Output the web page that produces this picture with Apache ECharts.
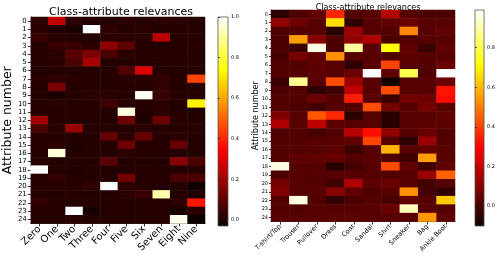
<!DOCTYPE html>
<html><head><meta charset="utf-8">
<script src="https://cdn.jsdelivr.net/npm/echarts@6/dist/echarts.min.js"></script>
<style>html,body{margin:0;padding:0;background:#fff}#c{width:498px;height:255px}</style>
</head><body><div id="c"></div>
<script>
const attributeLabels = ['0','1','2','3','4','5','6','7','8','9','10','11','12','13','14','15','16','17','18','19','20','21','22','23','24'];
const digitClasses = ['Zero','One','Two','Three','Four','Five','Six','Seven','Eight','Nine'];
const fashionClasses = ['T-shirt/Top','Trouser','Pullover','Dress','Coat','Sandal','Shirt','Sneaker','Bag','Ankle Boot'];

const digitRelevance = [
  [0.02, 0.25, 0.02, 0.01, 0.01, 0.02, 0.01, 0.02, 0.02, 0.01],
  [0.02, 0.01, -0.01, 1.0, 0.03, 0.01, 0.02, 0.01, 0.01, 0.01],
  [0.04, 0.01, 0.01, 0.01, 0.02, 0.02, 0.02, 0.24, 0.01, 0.01],
  [0.01, 0.04, 0.04, 0.02, 0.17, 0.10, 0.01, 0.01, 0.01, 0.02],
  [0.01, 0.02, 0.09, 0.15, 0.07, 0.02, 0.01, 0.01, 0.01, 0.01],
  [0.01, 0.02, 0.07, 0.21, 0.01, 0.01, 0.01, 0.01, 0.01, 0.01],
  [0.01, 0.01, 0.01, 0.01, 0.01, 0.08, 0.29, 0.01, 0.01, 0.01],
  [0.02, 0.03, 0.02, 0.01, 0.01, 0.02, 0.02, 0.03, 0.01, 0.45],
  [0.01, 0.14, 0.01, 0.01, 0.01, 0.01, 0.01, 0.03, 0.01, 0.01],
  [0.01, -0.005, 0.01, 0.02, 0.02, 0.01, 0.99, 0.04, 0.01, 0.01],
  [0.01, 0.02, 0.01, 0.01, 0.05, 0.01, 0.01, 0.02, 0.01, 0.72],
  [0.01, 0.01, 0.01, 0.01, 0.01, 0.97, 0.01, 0.02, 0.01, 0.0],
  [0.20, 0.01, 0.01, 0.01, 0.01, 0.12, 0.0, 0.12, 0.02, 0.01],
  [0.07, 0.01, 0.19, 0.01, 0.01, 0.01, 0.02, 0.01, 0.01, 0.01],
  [0.01, 0.01, 0.01, 0.01, 0.11, 0.02, 0.11, 0.01, 0.02, 0.01],
  [0.01, 0.02, 0.0, 0.01, 0.01, 0.12, 0.01, 0.01, 0.11, 0.01],
  [0.01, 0.96, 0.01, 0.01, 0.01, 0.02, 0.01, 0.01, 0.01, 0.01],
  [0.01, 0.01, 0.01, 0.01, 0.09, 0.01, 0.01, 0.01, 0.16, 0.07],
  [1.0, 0.01, 0.0, 0.01, 0.01, 0.01, 0.01, 0.01, 0.01, 0.01],
  [0.01, 0.03, 0.01, 0.01, 0.01, 0.13, 0.01, 0.01, 0.07, 0.07],
  [0.01, 0.01, 0.01, 0.03, 1.0, 0.02, 0.01, 0.01, 0.01, -0.02],
  [0.01, 0.01, 0.01, 0.01, 0.01, 0.02, 0.04, 0.91, 0.01, 0.0],
  [0.03, 0.01, 0.01, 0.01, 0.01, 0.01, 0.01, 0.01, 0.02, 0.38],
  [0.01, 0.01, 1.0, -0.01, 0.01, 0.01, 0.01, 0.01, -0.01, 0.02],
  [0.01, 0.01, 0.02, 0.01, 0.01, 0.01, 0.01, 0.01, 0.98, -0.03]
];

const fashionRelevance = [
  [-0.045, 0.009, 0.04, 0.36, 0.017, 0.025, 0.18, 0.025, 0.009, 0.009],
  [0.118, 0.056, 0.025, 0.656, -0.038, 0.025, 0.04, 0.056, 0.025, 0.025],
  [0.009, 0.017, 0.025, -0.053, 0.134, 0.025, 0.017, 0.516, 0.025, 0.04],
  [0.009, 0.555, 0.103, 0.009, 0.118, 0.165, 0.009, 0.017, 0.025, 0.025],
  [0.009, -0.022, 0.96, 0.009, 0.88, 0.025, 0.72, 0.04, -0.022, 0.04],
  [-0.006, 0.072, 0.04, 0.532, 0.025, 0.025, 0.017, 0.033, 0.025, 0.025],
  [0.017, 0.017, 0.04, 0.025, -0.038, 0.025, 0.407, 0.025, 0.017, 0.056],
  [0.017, 0.025, 0.033, 0.025, 0.056, 0.99, 0.04, 0.80, 0.017, 0.99],
  [-0.022, 0.869, 0.025, 0.423, 0.134, 0.025, -0.092, 0.025, 0.025, 0.056],
  [0.009, 0.017, -0.038, -0.014, 0.196, 0.025, 0.423, 0.025, 0.025, 0.329],
  [0.017, 0.017, 0.056, 0.017, 0.345, 0.025, -0.022, 0.072, 0.056, 0.314],
  [0.017, 0.009, -0.006, 0.025, 0.017, 0.423, 0.072, 0.025, 0.072, 0.025],
  [0.087, 0.025, 0.438, 0.36, -0.053, 0.025, -0.053, 0.025, 0.025, 0.04],
  [0.165, 0.025, 0.196, 0.033, 0.025, 0.025, -0.053, 0.025, 0.033, 0.033],
  [0.009, 0.017, -0.006, 0.017, 0.181, 0.321, 0.118, 0.025, 0.056, 0.017],
  [0.017, 0.017, 0.025, 0.025, 0.04, 0.407, 0.025, -0.045, 0.134, 0.017],
  [0.017, 0.017, 0.025, 0.033, -0.022, 0.025, 0.594, 0.025, 0.04, 0.025],
  [0.017, 0.033, 0.04, 0.048, 0.017, 0.025, 0.009, -0.014, 0.555, 0.025],
  [0.955, 0.025, 0.025, -0.053, -0.006, 0.025, 0.415, 0.04, -0.014, 0.04],
  [0.009, 0.025, 0.017, 0.025, 0.025, 0.017, 0.017, 0.025, 0.134, 0.454],
  [0.072, 0.025, 0.017, -0.014, 0.165, 0.033, 0.056, 0.025, -0.006, 0.025],
  [0.087, 0.025, 0.025, 0.103, 0.04, 0.009, 0.025, 0.532, -0.006, -0.038],
  [0.017, 0.955, 0.017, -0.038, 0.009, 0.025, 0.001, 0.04, 0.025, 0.625],
  [0.017, 0.017, 0.025, 0.025, 0.025, 0.025, 0.056, 0.915, 0.025, 0.017],
  [0.025, 0.025, 0.025, 0.033, 0.033, 0.025, 0.025, 0.025, 0.54, 0.033]
];

const digitTicks = [0, 0.2, 0.4, 0.6, 0.8, 1.0];
const fashionTicks = [0, 0.2, 0.4, 0.6, 0.8];
const digitRange = [-0.03, 1.0];
const fashionRange = [-0.10, 0.99];

// matplotlib "hot" colormap
function hot(t) {
  const cl = v => Math.max(0, Math.min(1, v));
  const r = cl(0.0416 + (1 - 0.0416) * t / 0.365079);
  const g = cl((t - 0.365079) / (0.746032 - 0.365079));
  const b = cl((t - 0.746032) / (1 - 0.746032));
  return 'rgb(' + Math.round(r * 255) + ',' + Math.round(g * 255) + ',' + Math.round(b * 255) + ')';
}
const N = 64;
const hotColors = [];
const hotStops = [];
for (let i = 0; i <= N; i++) {
  hotColors.push(hot(i / N));
  hotStops.push({ offset: i / N, color: hot(i / N) });
}

function toCells(matrix) {
  const out = [];
  matrix.forEach((row, r) => row.forEach((v, c) => out.push([c, r, v])));
  return out;
}

const FONT = 'DejaVu Sans';
const grids = [
  { left: 27, top: 17, width: 178, height: 209 },
  { left: 218, top: 17, width: 10, height: 209 },
  { left: 271, top: 10, width: 184, height: 216 },
  { left: 475, top: 10, width: 11, height: 216 }
];

function heatX(gi, cats, fs) {
  return {
    type: 'category', gridIndex: gi, data: cats,
    axisLine: { show: true, lineStyle: { color: '#000', width: 0.8 } },
    axisTick: { show: true, alignWithLabel: true, length: 3, lineStyle: { color: '#000', width: 0.8 } },
    axisLabel: { rotate: 45, fontSize: fs, fontFamily: FONT, color: '#000', margin: 4, interval: 0 },
    splitLine: { show: false }
  };
}
function heatY(gi, fs, nameFs, gap, moveOverlap, margin, tickLen) {
  return {
    type: 'category', gridIndex: gi, data: attributeLabels, inverse: true,
    name: 'Attribute number', nameLocation: 'middle', nameGap: gap, nameMoveOverlap: moveOverlap,
    nameTextStyle: { fontSize: nameFs, fontFamily: FONT, color: '#000' },
    axisLine: { show: true, lineStyle: { color: '#000', width: 0.8 } },
    axisTick: { show: true, alignWithLabel: true, length: tickLen, lineStyle: { color: '#000', width: 0.8 } },
    axisLabel: { fontSize: fs, fontFamily: FONT, color: '#000', margin: margin, interval: 0 },
    splitLine: { show: false }
  };
}
function cbX(gi) {
  return { type: 'value', gridIndex: gi, show: false, min: 0, max: 1 };
}
function cbY(gi, range, ticks, fs) {
  return {
    type: 'value', gridIndex: gi, position: 'right', min: range[0], max: range[1],
    axisLine: { show: false },
    splitLine: { show: false },
    axisTick: { show: true, length: 2, customValues: ticks, lineStyle: { color: '#000', width: 0.6 } },
    axisLabel: { show: true, customValues: ticks, fontSize: fs, fontFamily: FONT, color: '#000', margin: 3,
      formatter: v => v.toFixed(1) }
  };
}

const chart = echarts.init(document.getElementById('c'), null, { renderer: 'canvas' });
chart.setOption({
  animation: false,
  backgroundColor: '#fff',
  title: [
    { text: 'Class-attribute relevances', left: 116, top: 2, textAlign: 'center',
      textStyle: { fontSize: 11, fontWeight: 'normal', fontFamily: FONT, color: '#000' } },
    { text: 'Class-attribute relevances', left: 363, top: -1, textAlign: 'center',
      textStyle: { fontSize: 8, fontWeight: 'normal', fontFamily: FONT, color: '#000' } }
  ],
  grid: grids.map((g, i) => Object.assign({}, g, (i === 1 || i === 3) ? {
    show: true, borderColor: '#555', borderWidth: 0.8,
    backgroundColor: { type: 'linear', x: 0, y: 1, x2: 0, y2: 0, colorStops: hotStops }
  } : { show: false })),
  xAxis: [heatX(0, digitClasses, 10), cbX(1), heatX(2, fashionClasses, 6.5), cbX(3)],
  yAxis: [
    heatY(0, 7, 12.5, 11, true, 4, 3),
    cbY(1, digitRange, digitTicks, 5),
    heatY(2, 5, 8, 11, false, 3, 2),
    cbY(3, fashionRange, fashionTicks, 5)
  ],
  visualMap: [
    { show: false, type: 'continuous', seriesIndex: 0, min: digitRange[0], max: digitRange[1], inRange: { color: hotColors } },
    { show: false, type: 'continuous', seriesIndex: 1, min: fashionRange[0], max: fashionRange[1], inRange: { color: hotColors } }
  ],
  series: [
    { type: 'heatmap', xAxisIndex: 0, yAxisIndex: 0, data: toCells(digitRelevance),
      itemStyle: { borderWidth: 0 }, emphasis: { disabled: true }, progressive: 0 },
    { type: 'heatmap', xAxisIndex: 2, yAxisIndex: 2, data: toCells(fashionRelevance),
      itemStyle: { borderWidth: 0 }, emphasis: { disabled: true }, progressive: 0 }
  ]
});
</script>
</body></html>
